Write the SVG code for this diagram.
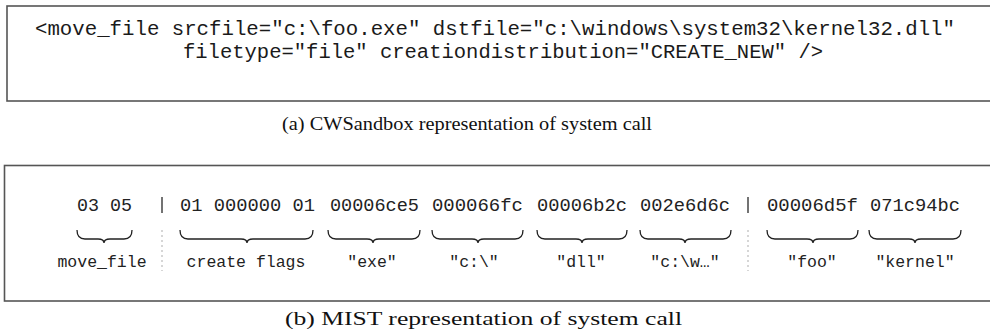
<svg xmlns="http://www.w3.org/2000/svg" width="990" height="331" viewBox="0 0 990 331">
<style>
.box{fill:#fff;stroke:#555;stroke-width:1.6}
.code{font-family:"Liberation Mono",monospace;font-size:20px;fill:#1a1a1a}
.hex{font-family:"Liberation Mono",monospace;font-size:19px;fill:#222}
.lbl{font-family:"Liberation Mono",monospace;font-size:16.5px;fill:#222;text-anchor:middle}
.cap{font-family:"Liberation Serif",serif;font-size:19px;fill:#111}
.brace{fill:none;stroke:#222;stroke-width:1.3}
.sep{stroke:#bbb;stroke-width:1.2;stroke-dasharray:2 3}
.bar{stroke:#444;stroke-width:1.5}
</style>
<rect width="990" height="331" fill="#fff"/>
<g id="cwsandbox">
<rect class="box" x="7" y="6" width="990" height="95"/>
<text class="code" x="35" y="35" textLength="920" lengthAdjust="spacingAndGlyphs">&lt;move_file srcfile="c:\foo.exe" dstfile="c:\windows\system32\kernel32.dll"</text>
<text class="code" x="183" y="58" textLength="640" lengthAdjust="spacingAndGlyphs">filetype="file" creationdistribution="CREATE_NEW" /&gt;</text>
</g>
<g id="caption-a"><text class="cap" x="282" y="130" textLength="370" lengthAdjust="spacingAndGlyphs">(a) CWSandbox representation of system call</text></g>
<g id="mist">
<rect class="box" x="4.5" y="165.5" width="990" height="135.5"/>
<text class="hex" x="77" y="211" textLength="55" lengthAdjust="spacingAndGlyphs">03 05</text>
<line class="bar" x1="162" y1="197" x2="162" y2="213"/>
<text class="hex" x="180" y="211" textLength="135" lengthAdjust="spacingAndGlyphs">01 000000 01</text>
<text class="hex" x="330" y="211" textLength="89" lengthAdjust="spacingAndGlyphs">00006ce5</text>
<text class="hex" x="432" y="211" textLength="91" lengthAdjust="spacingAndGlyphs">000066fc</text>
<text class="hex" x="537" y="211" textLength="90" lengthAdjust="spacingAndGlyphs">00006b2c</text>
<text class="hex" x="640" y="211" textLength="90" lengthAdjust="spacingAndGlyphs">002e6d6c</text>
<line class="bar" x1="748" y1="197" x2="748" y2="213"/>
<text class="hex" x="767" y="211" textLength="91" lengthAdjust="spacingAndGlyphs">00006d5f</text>
<text class="hex" x="870" y="211" textLength="90" lengthAdjust="spacingAndGlyphs">071c94bc</text>
<line class="sep" x1="162" y1="230" x2="162" y2="271"/>
<line class="sep" x1="748" y1="230" x2="748" y2="271"/>
</g>
<g id="connectors">
<path class="brace" d="M77,230 Q77,239 85,239 L98,239 Q104,239 104,243 Q104,239 110,239 L124,239 Q132,239 132,230"/>
<path class="brace" d="M180,230 Q180,239 188,239 L241,239 Q247,239 247,243 Q247,239 253,239 L305,239 Q313,239 313,230"/>
<path class="brace" d="M328,230 Q328,239 336,239 L367,239 Q373,239 373,243 Q373,239 379,239 L412,239 Q420,239 420,230"/>
<path class="brace" d="M432,230 Q432,239 440,239 L472,239 Q478,239 478,243 Q478,239 484,239 L515,239 Q523,239 523,230"/>
<path class="brace" d="M537,230 Q537,239 545,239 L576,239 Q582,239 582,243 Q582,239 588,239 L619,239 Q627,239 627,230"/>
<path class="brace" d="M640,230 Q640,239 648,239 L679,239 Q685,239 685,243 Q685,239 691,239 L723,239 Q731,239 731,230"/>
<path class="brace" d="M767,230 Q767,239 775,239 L807,239 Q813,239 813,243 Q813,239 819,239 L850,239 Q858,239 858,230"/>
<path class="brace" d="M869,230 Q869,239 877,239 L909,239 Q915,239 915,243 Q915,239 921,239 L953,239 Q961,239 961,230"/>
</g>
<g id="labels">
<text class="lbl" x="102" y="267">move_file</text>
<text class="lbl" x="246" y="267">create flags</text>
<text class="lbl" x="372" y="267">"exe"</text>
<text class="lbl" x="474" y="267">"c:\"</text>
<text class="lbl" x="581" y="267">"dll"</text>
<text class="lbl" x="685" y="267">"c:\w…"</text>
<text class="lbl" x="812" y="267">"foo"</text>
<text class="lbl" x="915" y="267">"kernel"</text>
</g>
<g id="caption-b"><text class="cap" x="285" y="325" textLength="397" lengthAdjust="spacingAndGlyphs">(b) MIST representation of system call</text></g>
</svg>
